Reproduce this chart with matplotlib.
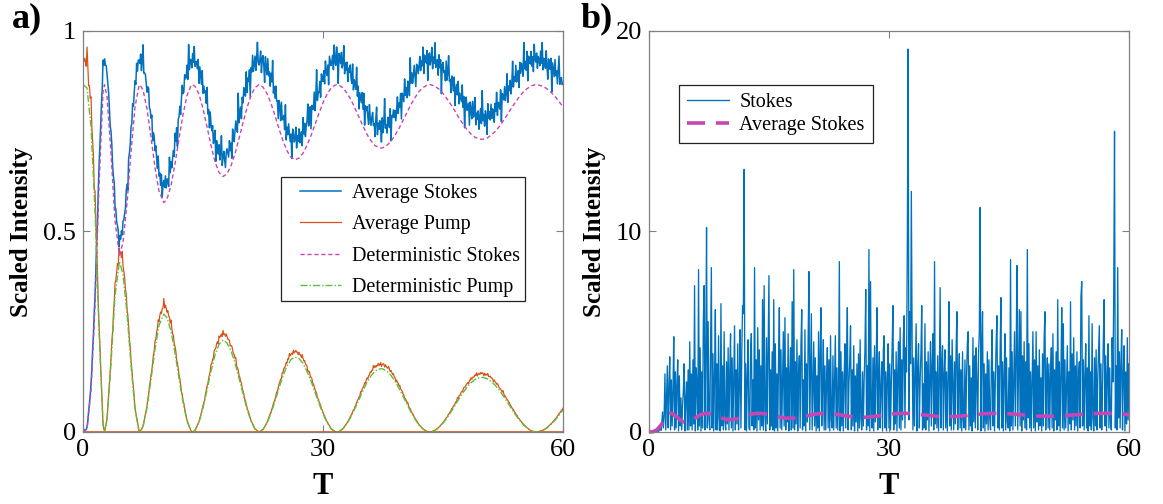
import numpy as np
import matplotlib.pyplot as plt
from matplotlib.patches import Rectangle

plt.rcParams['font.family'] = ['Liberation Serif', 'DejaVu Serif']

# deterministic pump, read at knots (zeros and maxima included)
pump_t = [0, 0.5, 1.0, 1.5, 2.0, 2.5, 2.68, 3.0, 3.5, 4.0, 4.55, 5.0, 5.5, 6.0, 6.5, 7.0, 7.1,
          7.5, 8.0, 8.5, 9.0, 9.5, 10.1, 10.5, 11.0, 11.5, 12.0, 12.5, 13.0, 13.5, 13.7,
          14.0, 14.5, 15.0, 15.5, 16.0, 16.5, 17.0, 17.5, 18.0, 18.5, 19.0, 19.5, 20.0, 20.5,
          21.0, 21.5, 22.0, 22.5, 23.0, 23.5, 24.0, 24.5, 25.0, 25.5, 26.0, 26.5, 27.0, 27.5,
          28.0, 28.5, 29.0, 29.5, 30.0, 30.5, 31.0, 31.5, 31.7, 32.0, 32.5, 33.0, 33.5, 34.0,
          34.5, 35.0, 35.5, 36.0, 36.5, 37.2, 37.5, 38.0, 38.5, 39.0, 39.5, 40.0, 40.5, 41.0,
          41.5, 42.0, 42.5, 43.0, 43.3, 43.5, 44.0, 44.5, 45.0, 45.5, 46.0, 46.5, 47.0, 47.5,
          48.0, 48.5, 49.0, 49.5, 49.8, 50.0, 50.5, 51.0, 51.5, 52.0, 52.5, 53.0, 53.5, 54.0,
          54.5, 55.0, 55.5, 56.0, 56.5, 56.7, 57.0, 57.5, 58.0, 58.5, 59.0, 59.5, 60.0]
pump_det = [0.866, 0.858, 0.76, 0.55, 0.25, 0.018, 0.0, 0.030, 0.172, 0.340, 0.425, 0.393,
            0.295, 0.167, 0.055, 0.002, 0.0,
            0.013, 0.061, 0.132, 0.207, 0.266, 0.294, 0.285, 0.251, 0.197, 0.134, 0.074, 0.027,
            0.002, 0.0,
            0.004, 0.024, 0.060, 0.105, 0.152, 0.192, 0.219, 0.229, 0.222, 0.202, 0.172, 0.134,
            0.095, 0.057, 0.027, 0.007, 0.0, 0.006, 0.022, 0.047, 0.077, 0.110, 0.140, 0.165,
            0.181, 0.187, 0.183, 0.171, 0.151, 0.127, 0.099, 0.071, 0.045, 0.024, 0.008, 0.001,
            0.0, 0.001, 0.008, 0.021, 0.038, 0.059, 0.081, 0.103, 0.124, 0.140, 0.152, 0.158,
            0.157, 0.151, 0.141, 0.126, 0.109, 0.089, 0.069, 0.049, 0.032, 0.017, 0.007, 0.001,
            0.0, 0.0, 0.004, 0.011, 0.022, 0.035, 0.050, 0.066, 0.083, 0.098, 0.112, 0.123,
            0.131, 0.135, 0.136, 0.136, 0.133, 0.126, 0.117, 0.105, 0.091, 0.076, 0.060, 0.045,
            0.031, 0.019, 0.010, 0.003, 0.0, 0.0, 0.001, 0.004, 0.010, 0.019, 0.029, 0.042, 0.055]

det_total = 0.866   # pump + stokes, deterministic
avg_total = 0.93    # pump + stokes, ensemble average

# fluctuation of the ensemble average (units of noise_amp), sampled every 0.1 T
jitter = [
    1, -2, 3, 0, -1, 4, -3, 2, -1, 0, 5, -2, 1, -4, 2, 0, -1, 3, -6, 2, 1, -1, 0, 3, -2, 7, -3, 1, -1, 2,
    -2, 0, 3, -1, -4, 1, 2, -3, 0, 6, -1, 2, -2, 0, 1, -5, 3, -1, 2, -2, 4, 0, -1, -3, 2, 1, -8, 3, 0, -1,
    2, -1, 4, -2, 0, 1, -3, 5, -1, 2, 0, -2, 3, -4, 1, 9, -2, 0, 1, -1, -3, 2, 4, -2, 0, -1, 3, -5, 1, 2,
    -1, 3, 0, -2, 5, -1, 1, -3, 2, -6, 0, 2, -1, 3, -2, 1, 0, -4, 6, -1, 2, -2, 0, 1, -3, 4, -1, 2, -7, 1,
    0, 2, -3, 1, 4, -1, -2, 3, 0, -1, 2, -4, 8, -2, 1, 0, -3, 2, -1, 5, -2, 0, 1, -1, 3, -5, 2, 0, -2, 4,
    -3, 1, 0, 2, -1, 6, -2, 1, -4, 3, 0, -1, 2, -3, 1, 4, -6, 2, 0, -1, 3, -2, 1, 7, -3, 0, 2, -1, -4, 1,
    2, 0, -2, 3, -1, 1, -5, 4, 0, -2, 1, 3, -1, -3, 9, -2, 0, 1, -4, 2, -1, 3, 0, -2, 5, -3, 1, -1, 2, -8,
    1, -1, 4, -2, 0, 2, -3, 1, 6, -1, -2, 0, 3, -4, 1, 2, -1, -6, 3, 0, -2, 4, -1, 1, -3, 2, 0, 8, -2, 1,
    -2, 3, -1, 0, -5, 2, 1, -3, 4, -1, 0, 2, -2, 7, -4, 1, -1, 3, 0, -2, 1, -7, 3, 2, -1, 0, 4, -3, 1, -1,
    3, -2, 0, 1, -4, 5, -1, 2, -3, 0, 1, 6, -2, -1, 3, -5, 2, 0, -1, 4, -3, 1, 9, -2, 0, -1, 2, -4, 3, 0,
    -1, 2, -3, 4, 0, -2, 1, -6, 3, 1, -1, 0, 2, -3, 5, -1, -2, 4, 0, -8, 2, 1, -1, 3, -2, 0, 6, -3, 1, -1,
    2, -4, 1, 0, 3, -1, -2, 5, -3, 1, 0, -1, 7, -2, 2, -5, 1, 0, -1, 3, -2, 4, -6, 1, 0, 2, -1, -3, 4, 0,
    -2, 1, 3, -1, 0, -4, 2, 6, -3, 1, -1, 2, 0, -5, 3, -2, 1, 9, -1, 0, -3, 2, 1, -2, 4, -7, 1, 0, 2, -1,
    1, -3, 0, 4, -2, 1, -1, 3, -6, 2, 0, -2, 5, -1, 1, -3, 2, 0, -4, 8, -1, 2, -2, 0, 3, -1, -5, 2, 1, -2,
    0, 3, -2, 1, -1, 5, -4, 2, 0, -1, 3, -7, 1, 2, -2, 0, 4, -3, 1, -1, 6, -2, 0, 1, -4, 3, -1, 2, -9, 1,
    2, -1, 0, -3, 4, -2, 1, 7, -1, 0, -4, 2, 1, -2, 3, -6, 0, 2, -1, 4, -3, 1, 0, -1, 5, -2, 2, -8, 1, 3,
    -1, 0, 2, -5, 3, 1, -2, 4, -1, 0, 6, -3, 1, -1, 2, -4, 0, 3, -2, 9, -1, 1, -3, 2, 0, -6, 4, -1, 1, -2,
    3, -2, 1, 0, -4, 2, -1, 5, -3, 1, 0, -2, 4, -7, 2, 1, -1, 3, -2, 0, 6, -4, 1, -1, 2, -3, 0, 7, -2, 1,
    -1, 4, -2, 0, 1, -5, 3, -1, 2, 0, -3, 8, -1, 1, -2, 4, -6, 2, 0, -1, 3, -2, 1, -4, 5, 0, -1, 2, -3, 1,
    0, -2, 3, -1, 6, -3, 1, 0, -2, 4, -1, -5, 2, 1, -1, 3, -8, 2, 0, -2, 4, -1, 1, -3, 2, 7, -2, 0, 1, -1,
    0]
noise_amp_t = [0, 2, 5, 10, 20, 60]
noise_amp = [0.0005, 0.002, 0.0045, 0.0065, 0.0075, 0.0075]

# single Stokes realisation, sampled every 0.1 T (one row per unit of T)
stokes_run = [
    0, 0, 0, 0, 0, 0, 0, 0, 0.01, 0.02,
    0.03, 0.05, 0.02, 0.1, 0.3, 0.08, 0.45, 1.0, 0.2, 0.8,
    2.9, 0.1, 1.8, 3.3, 0.2, 2.2, 3.75, 0.1, 2.6, 0.3,
    2.0, 4.75, 0.1, 3.0, 0.2, 2.4, 3.6, 0.05, 2.8, 0.3,
    1.7, 0.1, 1.3, 2.1, 3.4, 0.05, 1.6, 2.5, 0.1, 3.1,
    0.1, 4.5, 0.3, 2.9, 0.1, 3.6, 0.4, 7.3, 0.05, 3.2,
    2.4, 0.1, 8.1, 0.3, 4.2, 0.05, 3.0, 0.2, 5.6, 7.3,
    0.1, 3.8, 10.2, 0.2, 5.5, 0.6, 0.1, 4.4, 8.2, 0.2,
    3.9, 0.05, 2.7, 6.1, 0.1, 3.4, 0.1, 4.8, 0.7, 0.05,
    6.4, 0.3, 3.3, 0.1, 5.0, 0.5, 0.1, 3.5, 0.4, 4.2,
    0.1, 2.9, 4.9, 0.2, 3.7, 0.05, 2.6, 5.3, 0.1, 3.1,
    0.4, 4.4, 0.1, 2.3, 5.1, 0.2, 3.8, 6.3, 5.9, 13.1,
    0.1, 3.4, 0.05, 2.8, 4.6, 0.2, 0.1, 3.9, 4.9, 0.3,
    2.6, 0.1, 8.2, 0.2, 3.6, 0.05, 5.2, 0.6, 4.1, 0.1,
    3.3, 0.3, 6.6, 0.1, 7.3, 0.8, 0.05, 4.7, 0.4, 3.9,
    7.8, 0.1, 3.1, 0.3, 4.0, 0.1, 6.6, 0.05, 4.4, 0.2,
    2.9, 0.05, 3.6, 6.2, 0.2, 4.1, 0.1, 2.4, 5.0, 0.3,
    5.7, 0.1, 3.2, 0.5, 4.9, 0.05, 2.8, 4.2, 0.1, 6.5,
    0.2, 8.1, 0.1, 3.5, 0.4, 4.6, 0.05, 2.9, 3.8, 0.2,
    4.3, 6.1, 0.1, 2.6, 0.3, 5.1, 0.05, 3.4, 0.5, 4.7,
    8.0, 0.1, 3.1, 5.9, 0.1, 2.4, 4.5, 0.3, 3.7, 0.05,
    2.8, 0.2, 5.0, 0.05, 3.9, 6.2, 0.3, 2.2, 4.6, 0.1,
    3.3, 0.1, 2.5, 4.2, 0.2, 3.6, 0.05, 4.8, 0.6, 0.2,
    3.8, 0.1, 2.6, 4.8, 0.2, 3.2, 0.1, 2.2, 8.5, 0.05,
    4.0, 0.3, 3.0, 0.05, 2.7, 4.4, 0.2, 3.5, 6.2, 0.1,
    2.4, 3.6, 5.3, 0.1, 3.1, 0.3, 4.3, 0.05, 2.8, 0.5,
    3.4, 0.05, 3.9, 0.2, 4.6, 0.7, 0.1, 3.0, 0.3, 2.6,
    4.1, 7.1, 0.1, 3.3, 0.3, 9.1, 0.05, 7.5, 0.9, 0.2,
    3.7, 0.05, 4.3, 0.5, 3.0, 6.2, 0.1, 2.6, 4.0, 0.2,
    2.2, 3.5, 0.05, 4.1, 4.8, 0.2, 3.0, 0.05, 2.7, 4.4,
    0.2, 3.4, 0.1, 2.5, 4.2, 6.3, 0.1, 3.1, 0.4, 4.0,
    0.05, 2.9, 4.5, 0.2, 5.2, 0.1, 3.6, 0.6, 4.7, 5.8,
    0.2, 4.2, 3.0, 9.6, 19.1, 0.6, 6.0, 3.4, 12.0, 4.5,
    0.1, 3.7, 0.3, 2.9, 5.4, 0.05, 3.2, 4.4, 0.2, 2.6,
    3.9, 6.3, 0.1, 2.4, 0.2, 5.4, 0.1, 3.5, 0.6, 4.0,
    0.05, 2.8, 4.5, 0.3, 3.3, 4.9, 0.1, 8.5, 0.4, 3.0,
    0.2, 3.8, 0.05, 2.6, 7.2, 0.2, 3.4, 4.3, 0.1, 2.9,
    4.1, 0.2, 3.0, 0.05, 2.7, 6.5, 0.3, 3.8, 0.1, 4.6,
    2.3, 0.1, 3.5, 0.4, 4.2, 6.0, 0.1, 2.4, 3.9, 0.2,
    3.1, 0.05, 4.0, 0.6, 0.2, 3.6, 0.1, 2.8, 4.4, 5.0,
    0.1, 3.3, 0.3, 2.7, 0.05, 4.7, 0.5, 3.8, 0.2, 4.2,
    2.5, 0.1, 3.9, 5.0, 11.2, 0.05, 4.2, 6.0, 0.2, 3.4,
    0.05, 2.9, 0.4, 4.0, 0.1, 3.6, 0.7, 0.1, 3.2, 5.1,
    0.3, 3.0, 0.05, 2.6, 4.4, 5.8, 0.2, 3.3, 0.1, 4.1,
    6.7, 0.2, 3.5, 0.05, 2.8, 4.9, 0.1, 3.7, 0.5, 0.2,
    3.2, 0.05, 8.6, 0.3, 4.0, 0.1, 2.7, 5.0, 0.3, 3.6,
    8.3, 0.1, 3.1, 6.1, 0.3, 6.0, 0.05, 3.8, 0.6, 4.5,
    0.2, 3.5, 0.1, 9.1, 0.7, 4.4, 0.2, 3.0, 0.05, 2.6,
    5.0, 0.2, 3.6, 0.05, 5.0, 0.5, 3.3, 0.1, 4.1, 0.3,
    2.7, 0.05, 3.9, 0.3, 4.6, 6.0, 0.1, 2.5, 3.7, 0.2,
    3.4, 0.1, 2.8, 4.2, 0.2, 4.9, 0.05, 3.1, 0.6, 4.0,
    0.1, 6.6, 0.3, 3.5, 0.05, 2.9, 6.2, 0.2, 5.4, 0.1,
    3.6, 0.2, 2.4, 4.3, 0.05, 3.0, 0.4, 6.5, 0.1, 3.9,
    0.6, 4.7, 0.1, 3.3, 0.3, 4.0, 0.05, 2.7, 3.5, 0.2,
    6.7, 7.5, 0.3, 3.6, 0.1, 2.8, 4.4, 0.2, 3.2, 0.05,
    5.8, 0.3, 3.0, 0.1, 5.4, 0.7, 0.05, 3.7, 0.3, 4.1,
    0.1, 2.6, 3.9, 5.3, 0.2, 3.4, 0.1, 2.2, 4.6, 6.6,
    0.3, 3.8, 0.05, 2.9, 4.4, 0.2, 3.2, 0.5, 0.1, 4.7,
    2.5, 6.9, 15.0, 0.2, 3.3, 0.1, 8.2, 0.7, 4.0, 0.2,
    3.5, 5.1, 0.1, 2.8, 4.3, 0.05, 3.0, 0.4, 4.7, 0.6,
    3.4]

blue = '#0072BD'
red = '#D95319'
magenta = '#C845B4'
green = '#5CBF3A'
frame = '#808080'

pump_t = np.array(pump_t)
pump_det = np.array(pump_det)
stokes_det = det_total - pump_det
avg_pump_knots = pump_det * avg_total / det_total
avg_stokes_knots = avg_total - avg_pump_knots

t_fine = np.linspace(0, 60, len(jitter))
jit = np.array(jitter, dtype=float)
amp = np.interp(t_fine, noise_amp_t, noise_amp)
avg_stokes = np.interp(t_fine, pump_t, avg_stokes_knots) + amp * jit
avg_pump = np.interp(t_fine, pump_t, avg_pump_knots) * (1 + 0.006 * jit[::-1])

t_run = np.linspace(0, 60, len(stokes_run))

fig = plt.figure(figsize=(11.63, 5.04), dpi=100)
ax1 = fig.add_axes([0.0714, 0.1429, 0.4127, 0.7956])
ax2 = fig.add_axes([0.5580, 0.1429, 0.4127, 0.7956])

# a) averages against the deterministic solution
ax1.plot(t_fine, avg_stokes, color=blue, lw=1.1, label='Average Stokes')
ax1.plot(np.r_[0, t_fine], np.r_[0, avg_pump], color=red, lw=0.9, label='Average Pump')
ax1.plot([0, 60], [0, 0], color=red, lw=1.2)
ax1.plot(pump_t, stokes_det, color=magenta, lw=1.0, ls=(0, (3, 2)), label='Deterministic Stokes')
ax1.plot(pump_t, pump_det, color=green, lw=1.0, ls=(0, (5, 1.5, 1, 1.5)), label='Deterministic Pump')
ax1.set_xlim(0, 60)
ax1.set_ylim(0, 1)
ax1.set_xticks([0, 30, 60])
ax1.set_yticks([0, 0.5, 1])
ax1.set_yticklabels(['0', '0.5', '1'])
leg1 = ax1.legend(loc='upper left', bbox_to_anchor=(0.4417, 0.631), borderaxespad=0,
                  fontsize=14.5, frameon=False, handlelength=2.0, handletextpad=0.55,
                  labelspacing=0.6, borderpad=0.26)
# legend box, wider at the sides than at top and bottom
ax1.add_patch(Rectangle((0.4125, 0.3267), 0.508, 0.3092, transform=ax1.transAxes,
                        facecolor='white', edgecolor='#222222', lw=0.9, zorder=4.9))

# b) one realisation of the Stokes intensity
ax2.plot(t_run, stokes_run, color=blue, lw=0.95, label='Stokes')
ax2.plot(pump_t, avg_stokes_knots, color=magenta, lw=2.6, dashes=(5, 3),
         label='Average Stokes', clip_on=False)
ax2.set_xlim(0, 60)
ax2.set_ylim(0, 20)
ax2.set_xticks([0, 30, 60])
ax2.set_yticks([0, 10, 20])
leg2 = ax2.legend(loc='upper left', bbox_to_anchor=(0.0625, 0.865), borderaxespad=0,
                  fontsize=14.5, fancybox=False, edgecolor='#222222', framealpha=1,
                  handlelength=2.1, handletextpad=0.5, labelspacing=0.2, borderpad=0.4)
leg2.get_frame().set_linewidth(0.9)

for ax, pad in ((ax1, 7), (ax2, 7)):
    for s in ax.spines.values():
        s.set_color(frame)
        s.set_linewidth(0.9)
    ax.tick_params(direction='in', top=True, right=True, length=5, width=0.8,
                   color=frame, labelsize=19, pad=5)
    ax.set_xlabel('T', fontsize=22, fontweight='bold', labelpad=8)
    ax.set_ylabel('Scaled Intensity', fontsize=18, fontweight='bold', labelpad=pad)

fig.text(0.010, 0.995, 'a)', fontsize=26, fontweight='bold', va='top')
fig.text(0.499, 0.995, 'b)', fontsize=26, fontweight='bold', va='top')

plt.savefig('out.png', dpi=100)
